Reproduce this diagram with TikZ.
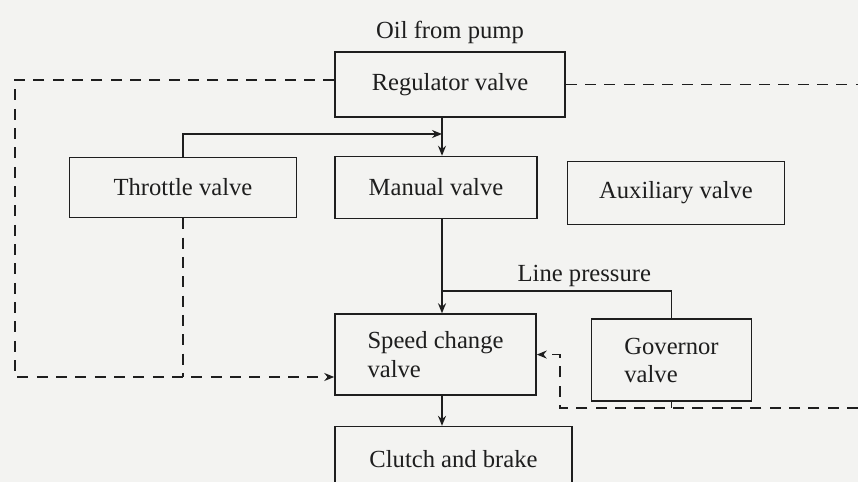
\documentclass[tikz,border=0pt]{standalone}
\usepackage{fontspec}
\setmainfont{Liberation Serif}
\usepackage{xcolor}
\usetikzlibrary{arrows.meta, positioning}
\definecolor{paper}{RGB}{243,243,241}
\definecolor{ink}{RGB}{30,30,30}
\tikzstyle{valve} = [rectangle, 
draw=ink, 
line width=1.3pt, 
text centered, 
align=center,
font=\fontsize{21}{24}\selectfont, 
text=ink]
\tikzstyle{pipe} = [draw=ink, line width=1.3pt]
\tikzstyle{signal} = [draw=ink, line width=1.3pt, dash pattern=on 0.33cm off 0.25cm]
\tikzstyle{arrow} = [-{Stealth[length=3mm,width=2.4mm]}]

\begin{document}
\begin{tikzpicture}[x=0.03cm, y=-0.03cm]

        \fill[paper] (0,0) rectangle (858,482);
        \useasboundingbox (0,0) rectangle (858,482);

        \node (reg) [valve, minimum width=6.9cm, minimum height=1.95cm] at (450,84.5) {Regulator valve};
        \node (oil) [above=0.1cm of reg, font=\fontsize{21}{24}\selectfont, text=ink] {Oil from pump};
        \node (man) [valve, minimum width=6.06cm, minimum height=1.86cm, below right=1.14cm and 0cm of reg.south west] {Manual valve};
        \node (thr) [valve, minimum width=6.81cm, minimum height=1.8cm, left=1.11cm of man] {Throttle valve};
        \node (aux) [valve, minimum width=6.51cm, minimum height=1.89cm, right=0.87cm of man, yshift=-0.16cm] {Auxiliary valve};
        \node (spd) [valve, align=left, minimum width=6.03cm, minimum height=2.43cm, below right=2.82cm and 0cm of man.south west] {Speed change\\valve};
        \node (gov) [valve, align=left, minimum width=4.8cm, minimum height=2.46cm, right=1.62cm of spd, yshift=-0.165cm] {Governor\\valve};
        \node (clu) [valve, minimum width=7.11cm, minimum height=1.95cm, below right=0.9cm and 0cm of spd.south west] {Clutch and brake};

        % junctions and free ends
        \coordinate (spine) at (442,0);
        \coordinate (tee) at (442,134);
        \coordinate (lp) at (442,291);
        \coordinate (dtl) at (15,80);
        \coordinate (dbl) at (15,377);
        \coordinate (redge) at (858,88);
        \coordinate (gtap) at (560,408);

        % line pressure
        \draw [pipe, arrow] (reg.south -| spine) -- (man.north -| spine);
        \draw [pipe, arrow] (thr.north) |- (tee);
        \draw [pipe] (man.south -| spine) -- (lp);
        \draw [pipe, arrow] (lp) -- (spd.north -| spine);
        \draw [pipe] (lp) -| node[pos=0.31, above, font=\fontsize{21}{24}\selectfont, text=ink] {Line pressure} (gov.north);
        \draw [pipe, arrow] (spd.south -| spine) -- (clu.north -| spine);

        % throttle and governor pressure
        \draw [signal, arrow] ([yshift=0.135cm]reg.west) -| (dbl) -- (spd.west |- dbl);
        \draw [signal] (thr.south) -- (thr.south |- dbl);
        \draw [signal] (reg.east) -- (reg.east -| redge);
        \draw [pipe] (gov.south) -- (gov.south |- gtap);
        \draw [signal, arrow] (gtap -| redge) -- (gtap) |- (spd.east);

    \end{tikzpicture}
\end{document}
